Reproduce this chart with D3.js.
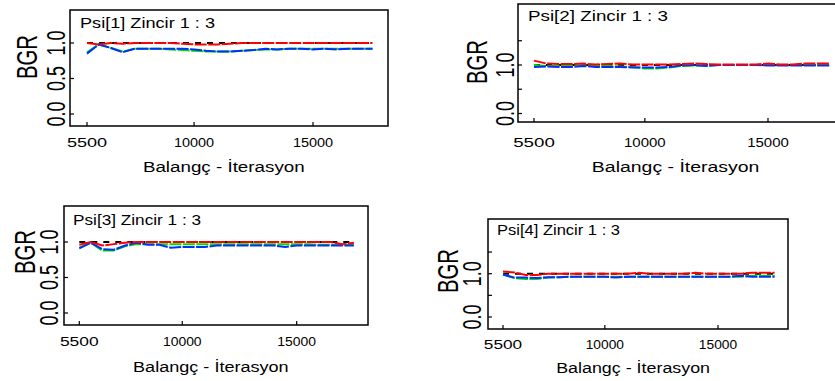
<!DOCTYPE html>
<html><head><meta charset="utf-8">
<script src="https://cdn.jsdelivr.net/npm/d3@7"></script>
<style>
body{margin:0;background:#fff}
svg{display:block}
text{font-family:"Liberation Sans",Arial,sans-serif;fill:#000}
</style>
</head><body>
<svg id="chart" width="835" height="381"></svg>
<script>
// ---------- data ----------
const iterations = [5500,6000,6500,7000,7500,8000,8500,9000,9500,10000,10500,11000,11500,12000,12500,13000,13500,14000,14500,15000,15500,16000,16500,17000,17500];
const panelTitles = ["Psi[1] Zincir 1 : 3","Psi[2] Zincir 1 : 3","Psi[3] Zincir 1 : 3","Psi[4] Zincir 1 : 3"];
const xAxisTitle = "Balangç - İterasyon";
const yAxisTitle = "BGR";
const xTickValues = [5500,10000,15000];
const yTicksA = [0,0.5,1.0];          // panels 1 and 3
const yTickLabelsA = ["0.0","0.5","1.0"];
const yTicksB = [0,0.5,1.0,1.5];      // panels 2 and 4
const yTickLabelsB = ["0.0","","1.0",""];

const black1 = [1,1,1,1,1,1,1,1,1,1,1,1,1,1,1,1,1,1,1,1,1,1,1,1,1];
const red1   = [1.00,0.98,1.00,0.99,1.00,1.00,1.00,1.00,0.99,0.98,0.98,0.98,0.99,1.00,1.00,1.00,1.00,1.00,1.00,1.00,1.00,1.00,1.00,1.00,1.00];
const green1 = [0.87,0.98,0.93,0.88,0.92,0.92,0.92,0.91,0.90,0.89,0.88,0.88,0.88,0.89,0.90,0.91,0.91,0.92,0.92,0.92,0.92,0.92,0.92,0.92,0.92];
const blue1  = [0.85,0.98,0.93,0.87,0.92,0.92,0.92,0.92,0.92,0.91,0.89,0.88,0.88,0.89,0.90,0.92,0.91,0.92,0.92,0.91,0.92,0.91,0.92,0.92,0.92];

const black2 = [1,1,1,1,1,1,1,1,1,1,1,1,1,1,1,1,1,1,1,1,1,1,1,1,1];
const red2   = [1.09,1.03,1.02,1.02,1.03,1.01,1.02,1.03,1.01,1.01,1.01,1.01,1.02,1.03,1.02,1.01,1.01,1.01,1.01,1.03,1.01,1.01,1.03,1.03,1.03];
const green2 = [1.00,0.98,0.98,0.98,1.00,0.98,0.98,0.97,0.96,0.93,0.93,0.95,0.98,0.99,0.99,1.00,1.00,1.00,1.00,1.00,1.00,1.00,1.00,1.00,1.00];
const blue2  = [0.96,0.97,0.96,0.96,0.98,0.96,0.96,0.96,0.95,0.95,0.95,0.96,0.99,1.00,0.98,1.00,1.00,1.00,1.00,0.99,0.99,0.99,0.99,0.99,0.99];

const black3 = [1,1,1,1,1,1,1,1,1,1,1,1,1,1,1,1,1,1,1,1,1,1,1,1,1];
const red3   = [0.96,1.00,0.95,0.97,0.99,1.00,1.00,1.00,1.00,1.00,1.00,1.00,1.00,1.00,1.00,1.00,1.00,1.00,1.00,1.00,1.00,1.00,1.00,0.97,0.99];
const green3 = [0.92,0.99,0.88,0.88,0.94,0.97,0.97,0.97,0.97,0.97,0.97,0.97,0.97,0.97,0.97,0.97,0.97,0.97,0.97,0.97,0.97,0.96,0.96,0.96,0.96];
const blue3  = [0.91,0.99,0.90,0.89,0.95,0.99,0.96,0.96,0.92,0.93,0.93,0.93,0.95,0.95,0.95,0.95,0.95,0.95,0.93,0.95,0.95,0.95,0.95,0.95,0.95];

const black4 = [1,1,1,1,1,1,1,1,1,1,1,1,1,1,1,1,1,1,1,1,1,1,1,1,1];
const red4   = [1.05,1.03,0.97,0.97,1.00,1.00,1.00,1.00,1.00,1.00,1.00,1.00,1.02,1.00,1.00,1.00,1.00,1.02,1.00,1.00,1.00,1.00,1.02,1.02,1.02];
const green4 = [0.98,0.90,0.88,0.88,0.91,0.92,0.93,0.93,0.93,0.93,0.93,0.93,0.93,0.93,0.93,0.93,0.93,0.93,0.93,0.93,0.93,0.93,0.95,0.95,0.95];
const blue4  = [0.98,0.91,0.91,0.90,0.92,0.92,0.93,0.93,0.93,0.93,0.91,0.93,0.93,0.93,0.93,0.93,0.93,0.93,0.93,0.93,0.93,0.95,0.93,0.93,0.93];

const seriesColors = ["#000000","#00e000","#0030ff","#ff0000"];

// ---------- layout ----------
const layouts = [
  {box:{l:70,t:10,r:388,b:126}, x5500:87, x15000:313, y0:114, y1:43, title:[80,28], titleW:135,
   bgr:{x:37,y:57}, ylabX:65, ticks:yTicksA, tickLabels:yTickLabelsA, lab:21, axt:46,
   series:[black1,green1,blue1,red1]},
  {box:{l:518,t:4,r:850,b:122}, x5500:534, x15000:768, y0:113.5, y1:65, title:[528,21], titleW:140,
   bgr:{x:487,y:62}, ylabX:514, ticks:yTicksB, tickLabels:yTickLabelsB, lab:25, axt:50,
   series:[black2,green2,blue2,red2]},
  {box:{l:64,t:206,r:368,b:325}, x5500:79.3, x15000:296.7, y0:313, y1:242, title:[73,225], titleW:128,
   bgr:{x:35,y:252}, ylabX:58, ticks:yTicksA, tickLabels:yTickLabelsA, lab:21, axt:47,
   series:[black3,green3,blue3,red3]},
  {box:{l:488,t:219,r:788,b:329}, x5500:503, x15000:718, y0:317, y1:273.7, title:[497,235], titleW:123,
   bgr:{x:458,y:271}, ylabX:481, ticks:yTicksB, tickLabels:yTickLabelsB, lab:20, axt:44,
   series:[black4,green4,blue4,red4]}
];

const svg = d3.select("#chart");

function rotText(g, x, y, txt, size, sx, len) {
  g.append("text")
    .attr("transform", `translate(${x},${y}) scale(${sx},1) rotate(-90)`)
    .attr("text-anchor","middle")
    .attr("font-size", size)
    .attr("textLength", len).attr("lengthAdjust","spacingAndGlyphs")
    .text(txt);
}

layouts.forEach((L, pi) => {
  const g = svg.append("g");
  const x = d3.scaleLinear().domain([5500,15000]).range([L.x5500, L.x15000]);
  const y = d3.scaleLinear().domain([0,1]).range([L.y0, L.y1]);
  const B = L.box;

  // series lines
  const line = d3.line().x((d,i)=>x(iterations[i])).y(d=>y(d));
  L.series.forEach((s, si) => {
    g.append("path").datum(s)
      .attr("d", line)
      .attr("fill","none")
      .attr("stroke", seriesColors[si])
      .attr("stroke-width", 2)
      .attr("stroke-dasharray", si===0 ? "6,6" : "12,1.5");
  });

  // box
  g.append("rect").attr("x",B.l).attr("y",B.t).attr("width",B.r-B.l).attr("height",B.b-B.t)
    .attr("fill","none").attr("stroke","#000").attr("stroke-width",1.5);

  // x ticks (inward) and labels
  xTickValues.forEach(v => {
    g.append("line").attr("x1",x(v)).attr("x2",x(v)).attr("y1",B.b).attr("y2",B.b-4)
      .attr("stroke","#000").attr("stroke-width",1.2);
  });
  const pxPerUnit = (L.x15000 - L.x5500) / 9500;
  g.selectAll("text.xt").data(xTickValues).enter().append("text")
    .attr("class","xt")
    .attr("x", d=>x(d)).attr("y", B.b + L.lab)
    .attr("text-anchor","middle").attr("font-size",12)
    .attr("textLength", 1690*pxPerUnit).attr("lengthAdjust","spacingAndGlyphs")
    .text(d=>d);

  // x axis title
  g.append("text").attr("x", x(11250)).attr("y", B.b + L.axt)
    .attr("text-anchor","middle").attr("font-size",14)
    .attr("textLength", 6800*pxPerUnit).attr("lengthAdjust","spacingAndGlyphs")
    .text(xAxisTitle);

  // y ticks (inward) and labels
  L.ticks.forEach((v,k) => {
    g.append("line").attr("x1",B.l).attr("x2",B.l+4).attr("y1",y(v)).attr("y2",y(v))
      .attr("stroke","#000").attr("stroke-width",1.2);
    if (L.tickLabels[k]) rotText(g, L.ylabX, y(v), L.tickLabels[k], 20, 1.3, 25);
  });

  // BGR
  rotText(g, L.bgr.x, L.bgr.y, yAxisTitle, 23, 1.3, 44);

  // panel title
  g.append("text").attr("x",L.title[0]).attr("y",L.title[1])
    .attr("font-size",14).attr("textLength",L.titleW).attr("lengthAdjust","spacingAndGlyphs")
    .text(panelTitles[pi]);
});
</script>
</body></html>
